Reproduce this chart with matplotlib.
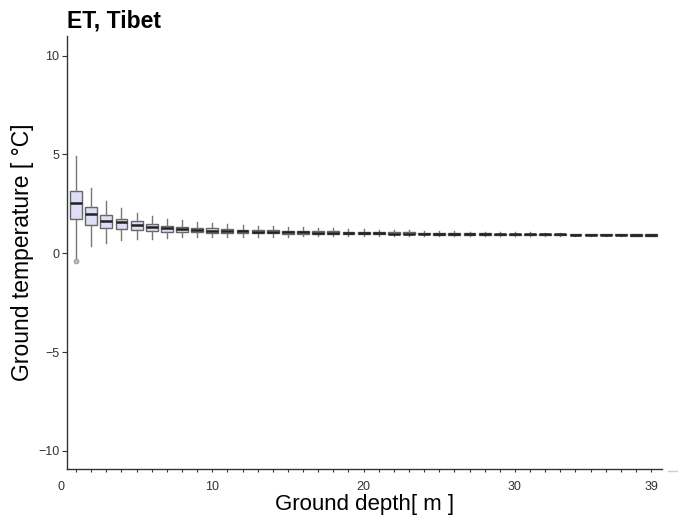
import numpy as np
import matplotlib.pyplot as plt
from matplotlib.lines import Line2D

plt.rcParams['font.family'] = ['Liberation Sans', 'DejaVu Sans']

# 深度 1..39 m 的地温箱线统计
depth = np.arange(1, 40)
med = [2.56, 2.00, 1.62, 1.58, 1.41, 1.33, 1.26, 1.22, 1.18, 1.15,
       1.13, 1.11, 1.09, 1.08, 1.07, 1.06, 1.05, 1.04, 1.03, 1.02,
       1.01, 1.00, 1.00, 0.99, 0.98, 0.98, 0.97, 0.97, 0.96, 0.96,
       0.96, 0.95, 0.95, 0.94, 0.93, 0.93, 0.93, 0.92, 0.92]
q3 = [3.13, 2.32, 1.92, 1.75, 1.62, 1.48, 1.38, 1.34, 1.29, 1.26,
      1.23, 1.20, 1.18, 1.16, 1.15, 1.13, 1.12, 1.11, 1.10, 1.08,
      1.07, 1.06, 1.06, 1.04, 1.03, 1.02, 1.01, 1.01, 1.00, 1.00,
      0.99, 0.99, 0.98, 0.97, 0.96, 0.96, 0.96, 0.95, 0.95]
q1 = [1.72, 1.45, 1.30, 1.25, 1.16, 1.13, 1.10, 1.09, 1.07, 1.05,
      1.04, 1.03, 1.02, 1.01, 1.00, 0.99, 0.99, 0.98, 0.98, 0.97,
      0.96, 0.96, 0.95, 0.95, 0.94, 0.94, 0.93, 0.93, 0.93, 0.92,
      0.92, 0.92, 0.91, 0.91, 0.90, 0.90, 0.90, 0.89, 0.89]
whislo = [-0.27, 0.35, 0.54, 0.66, 0.74, 0.74, 0.79, 0.80, 0.82, 0.83,
          0.83, 0.84, 0.84, 0.84, 0.84, 0.85, 0.85, 0.85, 0.86, 0.86,
          0.86, 0.87, 0.87, 0.87, 0.87, 0.88, 0.88, 0.88, 0.88, 0.88,
          0.88, 0.89, 0.89, 0.89, 0.88, 0.88, 0.88, 0.88, 0.88]
whishi = [4.90, 3.32, 2.64, 2.29, 2.04, 1.87, 1.72, 1.67, 1.60, 1.55,
          1.50, 1.45, 1.40, 1.37, 1.34, 1.31, 1.28, 1.26, 1.24, 1.22,
          1.20, 1.18, 1.16, 1.14, 1.12, 1.11, 1.10, 1.09, 1.08, 1.07,
          1.06, 1.05, 1.04, 1.00, 0.98, 0.97, 0.97, 0.96, 0.96]
fliers = {1: [-0.40]}

stats = []
for i, d in enumerate(depth):
    stats.append(dict(med=med[i], q1=q1[i], q3=q3[i],
                      whislo=whislo[i], whishi=whishi[i],
                      fliers=fliers.get(d, [])))

fig = plt.figure(figsize=(6.78, 5.21), dpi=100)
ax = fig.add_axes([0.0988, 0.0998, 0.8772, 0.8312])

ax.bxp(stats, positions=depth, widths=0.78, patch_artist=True,
       boxprops=dict(facecolor='#dedef7', edgecolor='#666666', linewidth=1.0),
       medianprops=dict(color='#222222', linewidth=1.8),
       whiskerprops=dict(color='#777777', linewidth=1.0),
       capprops=dict(linewidth=0),
       flierprops=dict(marker='o', markersize=3.5, markerfacecolor='#bbbbbb',
                       markeredgecolor='#999999', markeredgewidth=0.6),
       manage_ticks=False)

ax.set_xlim(0.4, 39.7)
ax.set_ylim(-10.92, 11.0)

ax.spines['top'].set_visible(False)
ax.spines['right'].set_visible(False)
for s in ['left', 'bottom']:
    ax.spines[s].set_color('#333333')
    ax.spines[s].set_linewidth(1.0)

ax.set_yticks([-10, -5, 0, 5, 10])
ax.tick_params(axis='y', length=3.5, width=0.8, color='#333333',
               labelsize=9, labelcolor='#333333', pad=2)

xlabels = [str(d) if d in (10, 20, 30, 39) else '' for d in depth]
ax.set_xticks(depth)
ax.set_xticklabels(xlabels)
ax.tick_params(axis='x', length=2.5, width=0.8, color='#333333',
               labelsize=9, labelcolor='#333333', pad=6)
# 0 刻度落在坐标范围外，单独写上
ax.text(0, -0.028, '0', fontsize=9, color='#333333', ha='center', va='top',
        transform=ax.get_xaxis_transform(), clip_on=False)

ax.set_xlabel('Ground depth[ m ]', fontsize=16, labelpad=1)
ax.set_ylabel('Ground temperature [ °C]', fontsize=16.5, labelpad=3)
ax.set_title('ET, Tibet', fontsize=16.5, fontweight='bold', loc='left', pad=6)

fig.add_artist(Line2D([0.985, 1.0], [0.096, 0.096], color='#cccccc', linewidth=1))

fig.savefig('out.png', dpi=100)
